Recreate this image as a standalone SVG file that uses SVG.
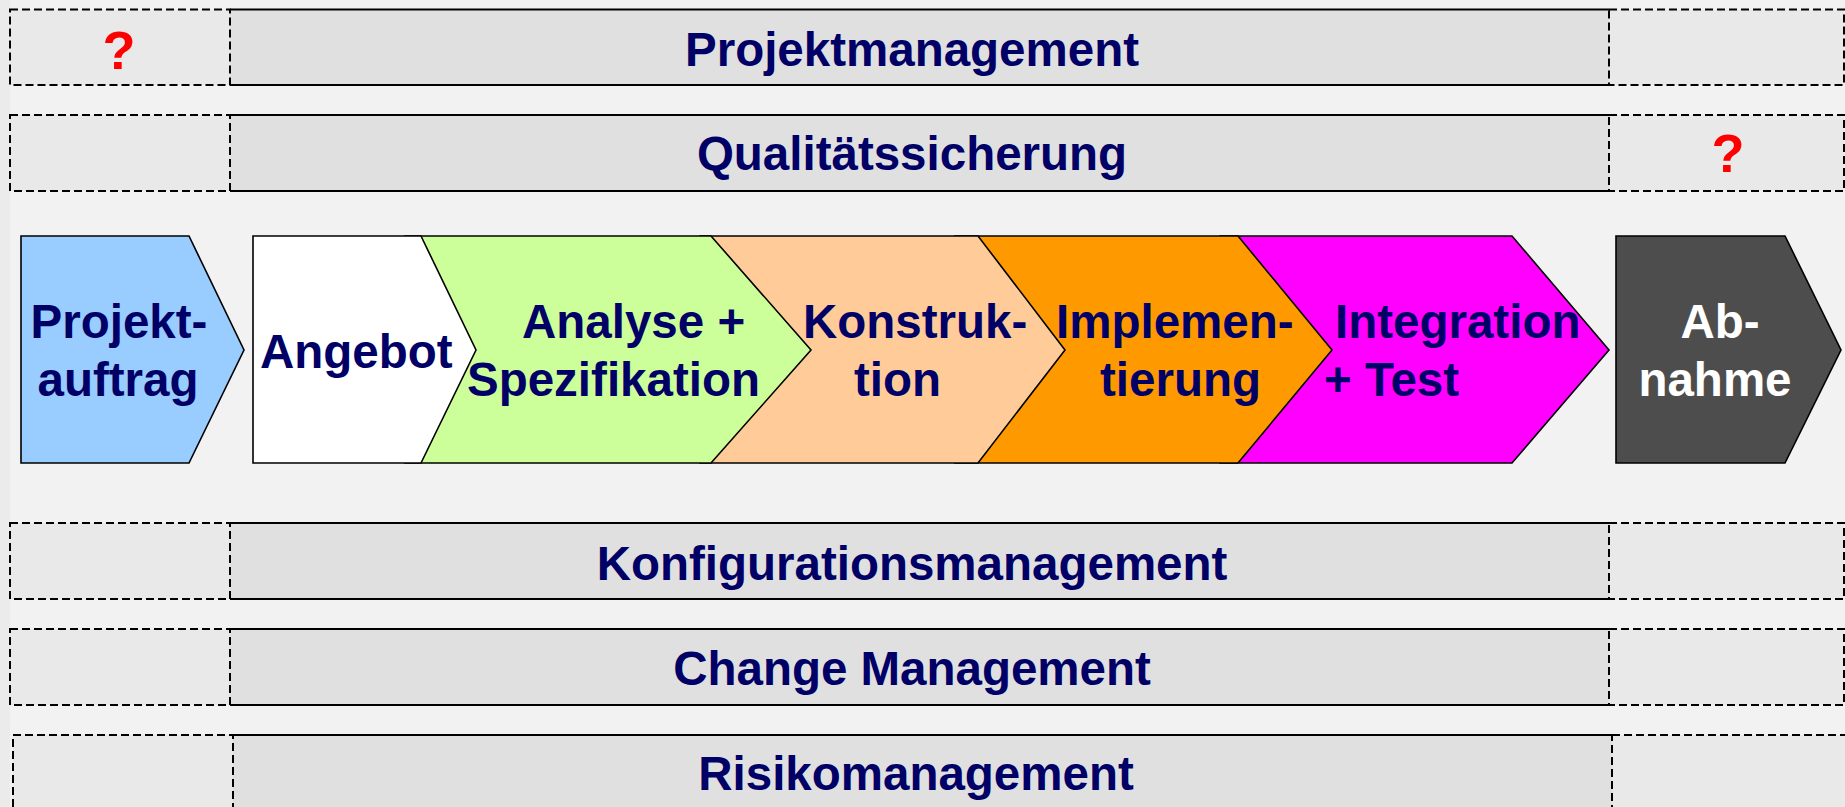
<svg xmlns="http://www.w3.org/2000/svg" width="1845" height="807" viewBox="0 0 1845 807">
<style>
.bg{fill:#f2f2f2}
.dash{fill:#e9e9e9;stroke:#000;stroke-width:2;stroke-dasharray:8 4}
.mid{fill:#e0e0e0}
.edge{stroke:#000;stroke-width:2;fill:none}
.chev{stroke:#000;stroke-width:1.6}
.t{font-family:"Liberation Sans",Arial,sans-serif;font-weight:bold;font-size:47.5px;fill:#000066}
.tm{text-anchor:middle}
.w{fill:#ffffff}
.q{font-family:"Liberation Sans",Arial,sans-serif;font-weight:bold;font-size:54px;fill:#ff0000;text-anchor:middle}
</style>
<rect class="bg" x="0" y="0" width="1845" height="807"/>
<rect x="0" y="0" width="10" height="807" fill="#ebebeb"/>

<g id="row-projektmanagement">
<rect class="mid" x="230" y="9.5" width="1379" height="75.5"/>
<line class="edge" x1="230" y1="9.5" x2="1609" y2="9.5"/>
<line class="edge" x1="230" y1="85" x2="1609" y2="85"/>
<rect class="dash" x="10" y="9.5" width="220" height="75.5"/>
<rect class="dash" x="1609" y="9.5" width="235" height="75.5"/>
<text class="t tm" x="912" y="65.5">Projektmanagement</text>
<text class="q" x="119" y="69">?</text>
</g>

<g id="row-qualitaetssicherung">
<rect class="mid" x="230" y="115" width="1379" height="76"/>
<line class="edge" x1="230" y1="115" x2="1609" y2="115"/>
<line class="edge" x1="230" y1="191" x2="1609" y2="191"/>
<rect class="dash" x="10" y="115" width="220" height="76"/>
<rect class="dash" x="1609" y="115" width="235" height="76"/>
<text class="t tm" x="912" y="170">Qualitätssicherung</text>
<text class="q" x="1728" y="172">?</text>
</g>

<g id="row-konfigurationsmanagement">
<rect class="mid" x="230" y="523" width="1379" height="76"/>
<line class="edge" x1="230" y1="523" x2="1609" y2="523"/>
<line class="edge" x1="230" y1="599" x2="1609" y2="599"/>
<rect class="dash" x="10" y="523" width="220" height="76"/>
<rect class="dash" x="1609" y="523" width="235" height="76"/>
<text class="t tm" x="912" y="580">Konfigurationsmanagement</text>
</g>

<g id="row-change-management">
<rect class="mid" x="230" y="629" width="1379" height="76"/>
<line class="edge" x1="230" y1="629" x2="1609" y2="629"/>
<line class="edge" x1="230" y1="705" x2="1609" y2="705"/>
<rect class="dash" x="10" y="629" width="220" height="76"/>
<rect class="dash" x="1609" y="629" width="235" height="76"/>
<text class="t tm" x="912" y="685">Change Management</text>
</g>

<g id="row-risikomanagement">
<rect class="mid" x="233" y="735" width="1379" height="80"/>
<line class="edge" x1="233" y1="735" x2="1612" y2="735"/>
<rect class="dash" x="13" y="735" width="220" height="80"/>
<rect class="dash" x="1612" y="735" width="235" height="80"/>
<text class="t tm" x="916" y="790">Risikomanagement</text>
</g>

<g id="node-projektauftrag">
<polygon class="chev" fill="#99ccff" points="21,236 189,236 244,350 189,463 21,463"/>
<text class="t tm" x="119" y="338">Projekt-</text>
<text class="t tm" x="118" y="396">auftrag</text>
</g>

<g id="node-integration-test">
<polygon class="chev" fill="#ff00ff" points="1220,236 1512,236 1609,350 1512,463 1220,463"/>
<text class="t" x="1335" y="338">Integration</text>
<text class="t" x="1324" y="396">+ Test</text>
</g>

<g id="node-implementierung">
<polygon class="chev" fill="#ff9900" points="955,236 1238,236 1332,350 1238,463 955,463"/>
<text class="t" x="1056" y="338">Implemen-</text>
<text class="t" x="1100" y="396">tierung</text>
</g>

<g id="node-konstruktion">
<polygon class="chev" fill="#ffcc99" points="700,236 978,236 1065,350 978,463 700,463"/>
<text class="t" x="803" y="338">Konstruk-</text>
<text class="t" x="854" y="396">tion</text>
</g>

<g id="node-analyse-spezifikation">
<polygon class="chev" fill="#ccff99" points="405,236 711,236 811,350 711,463 405,463"/>
<text class="t" x="522" y="338">Analyse +</text>
<text class="t" x="467" y="396">Spezifikation</text>
</g>

<g id="node-angebot">
<polygon class="chev" fill="#ffffff" points="253,236 421,236 476,350 421,463 253,463"/>
<text class="t" x="260" y="368">Angebot</text>
</g>

<g id="node-abnahme">
<polygon class="chev" fill="#4d4d4d" points="1616,236 1785,236 1841,350 1785,463 1616,463"/>
<text class="t tm w" x="1720" y="338">Ab-</text>
<text class="t tm w" x="1715" y="396">nahme</text>
</g>
</svg>
